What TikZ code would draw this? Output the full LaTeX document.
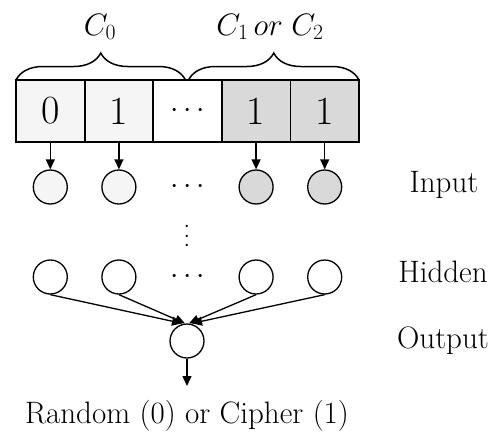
\RequirePackage{fix-cm}
\documentclass[tikz,border=0pt]{standalone}
\usetikzlibrary{arrows.meta}
\usetikzlibrary{decorations.pathreplacing}
\usetikzlibrary{positioning}

\definecolor{paleg}{HTML}{F5F5F5}
\definecolor{midg}{HTML}{D9D9D9}
\newcommand{\dotsize}{\fontsize{30}{30}\selectfont}

\begin{document}
\begin{tikzpicture}[x=1pt, y=-1pt,
    cell/.style={draw, line width=1.8pt, minimum width=68.6pt, minimum height=62pt, outer sep=0pt, font=\fontsize{40}{42}\selectfont},
    neuron/.style={draw, circle, line width=1.3pt, minimum size=34pt, inner sep=0pt, fill=white},
    lbl/.style={font=\fontsize{31}{36}\selectfont},
    arr/.style={-{Triangle[length=10pt, width=9pt]}, line width=1.3pt}]
        \useasboundingbox (0,0) rectangle (503,432);
        \foreach \i/\t/\f in {1/0/paleg, 2/1/paleg, 3/{\dotsize$\cdots$}/white, 4/1/midg, 5/1/midg}
           \node[cell, fill=\f] at ({50.3+68.6*(\i-1)}, 111) (c\i) {\t};
        \draw[decorate, decoration={brace, amplitude=27pt}, line width=1.5pt] (c1.north west) -- ([xshift=-2pt]c3.north);
        \draw[decorate, decoration={brace, amplitude=27pt}, line width=1.5pt] ([xshift=1pt]c3.north) -- (c5.north east);
        \node[lbl, anchor=base] at (100, 35) (czero) {$C_0$};
        \node[lbl, anchor=base] at (270, 35) (cone) {$C_1\,or\;C_2$};
        \foreach \i/\f in {1/paleg, 2/paleg, 4/midg, 5/midg} {
           \node[neuron, fill=\f] at ({50.3+68.6*(\i-1)}, 187) (in\i) {};
           \draw[arr] (c\i) -- (in\i);
        }
        \node[font=\dotsize] at (187.5, 187) (in3) {$\cdots$};
        \node[font=\fontsize{22}{22}\selectfont, rotate=90, inner sep=0pt] at (187.5, 236) (vd) {$\cdots$};
        \foreach \i in {1,2,4,5}
           \node[neuron] at ({50.3+68.6*(\i-1)}, 277) (h\i) {};
        \node[font=\dotsize] at (187.5, 277) (h3) {$\cdots$};
        \node[neuron] at (187, 341) (out) {};
        \foreach \i/\s in {1/-5, 2/-2, 4/2, 5/5}
           \draw[arr] (h\i.south) -- ([xshift=\s pt]out.north);
        \coordinate (tip) at (187, 386);
        \draw[arr] (out) -- (tip);
        \node[lbl, anchor=base] at (187, 423) (result) {Random (0) or Cipher (1)};
        \node[lbl, anchor=base] at (444, 192) (inlbl) {Input};
        \node[lbl, anchor=base] at (443, 282) (hidlbl) {Hidden};
        \node[lbl, anchor=base] at (443, 348) (outlbl) {Output};
\end{tikzpicture}
\end{document}
